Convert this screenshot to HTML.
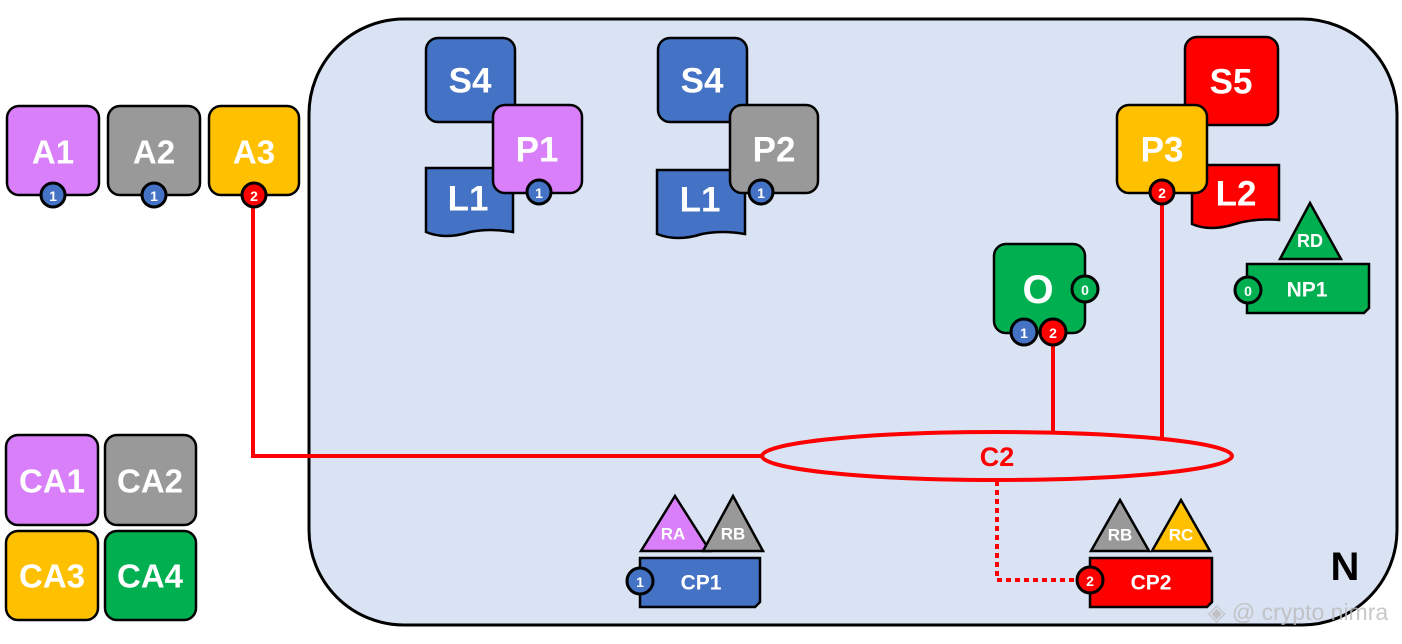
<!DOCTYPE html>
<html><head><meta charset="utf-8"><style>
body{margin:0;background:#fff}
svg text{font-family:"Liberation Sans",sans-serif;font-weight:bold;fill:#fff;text-anchor:middle;dominant-baseline:central}
</style></head><body>
<svg width="1402" height="639" viewBox="0 0 1402 639" xmlns="http://www.w3.org/2000/svg">
<rect x="309" y="19" width="1088" height="606" rx="95" fill="#dae3f3" stroke="#000" stroke-width="3"/>

<g stroke="#000" stroke-width="2.5">
<rect x="7" y="106" width="92" height="89" rx="12" fill="#d97ff9"/>
<rect x="108" y="106" width="92" height="89" rx="12" fill="#999"/>
<rect x="209" y="106" width="90" height="89" rx="12" fill="#ffc000"/>
<rect x="6" y="435" width="92" height="90" rx="12" fill="#d97ff9"/>
<rect x="105" y="435" width="91" height="90" rx="12" fill="#999"/>
<rect x="6" y="531" width="92" height="89" rx="12" fill="#ffc000"/>
<rect x="105" y="531" width="91" height="89" rx="12" fill="#00b050"/>
</g>
<text x="53" y="152" font-size="33">A1</text>
<text x="154" y="152" font-size="33">A2</text>
<text x="254" y="152" font-size="33">A3</text>
<text x="52" y="481" font-size="33">CA1</text>
<text x="150" y="481" font-size="33">CA2</text>
<text x="52" y="576" font-size="33">CA3</text>
<text x="150" y="576" font-size="33">CA4</text>

<g fill="none" stroke="#f00" stroke-width="4">
<polyline points="253,200 253,456 762,456"/>
<line x1="1053" y1="340" x2="1053" y2="433"/>
<line x1="1162" y1="200" x2="1162" y2="437"/>
<ellipse cx="997" cy="456" rx="235" ry="24"/>
</g>
<polyline points="997,481 997,580 1080,580" fill="none" stroke="#f00" stroke-width="4" stroke-dasharray="5,4"/>
<text x="997" y="457" font-size="27" style="fill:#f00">C2</text>

<g stroke="#000" stroke-width="2.5">
<rect x="426" y="38" width="89" height="84" rx="12" fill="#4472c4"/>
<path d="M426,168 L513,168 L513,232 Q490,228 470,232 Q445,240 426,232 Z" fill="#4472c4"/>
<rect x="493" y="105" width="89" height="88" rx="12" fill="#d97ff9"/>
<rect x="658" y="38" width="89" height="84" rx="12" fill="#4472c4"/>
<path d="M657,170 L745,170 L745,234 Q722,230 702,234 Q677,242 657,234 Z" fill="#4472c4"/>
<rect x="730" y="105" width="88" height="88" rx="12" fill="#999"/>
<rect x="1185" y="37" width="93" height="88" rx="12" fill="#f00"/>
<path d="M1192,165 L1279,165 L1279,220 Q1255,218 1235,224 Q1210,232 1192,224 Z" fill="#f00"/>
<rect x="1117" y="105" width="90" height="88" rx="12" fill="#ffc000"/>
<rect x="994" y="244" width="91" height="89" rx="12" fill="#00b050"/>
<polygon points="1310,203 1341,259 1280,259" fill="#00b050"/>
<path d="M1247,264 L1369,264 L1369,308 L1364,313 L1247,313 Z" fill="#00b050"/>
<polygon points="675,496 710,551 641,551" fill="#d97ff9"/>
<polygon points="733,496 763,551 703,551" fill="#999"/>
<path d="M640,558 L760,558 L760,602 L755,607 L640,607 Z" fill="#4472c4"/>
<polygon points="1120,500 1149,551 1091,551" fill="#999"/>
<polygon points="1181,500 1210,551 1152,551" fill="#ffc000"/>
<path d="M1090,558 L1212,558 L1212,602 L1207,607 L1090,607 Z" fill="#f00"/>
</g>
<text x="470" y="81" font-size="35">S4</text>
<text x="537" y="150" font-size="35">P1</text>
<text x="468" y="199" font-size="35">L1</text>
<text x="702" y="81" font-size="35">S4</text>
<text x="774" y="150" font-size="35">P2</text>
<text x="700" y="200" font-size="35">L1</text>
<text x="1231" y="82" font-size="35">S5</text>
<text x="1162" y="150" font-size="35">P3</text>
<text x="1236" y="194" font-size="35">L2</text>
<text x="1038" y="290" font-size="40">O</text>
<text x="1310" y="241" font-size="18">RD</text>
<text x="1307" y="290" font-size="21">NP1</text>
<text x="673" y="534" font-size="17">RA</text>
<text x="733" y="534" font-size="17">RB</text>
<text x="701" y="583" font-size="21">CP1</text>
<text x="1120" y="535" font-size="17">RB</text>
<text x="1181" y="535" font-size="17">RC</text>
<text x="1151" y="583" font-size="21">CP2</text>
<text x="1345" y="567" font-size="40" style="fill:#000">N</text>

<g stroke="#000" stroke-width="3">
<circle cx="53" cy="195" r="12" fill="#4472c4"/>
<circle cx="154" cy="195" r="12" fill="#4472c4"/>
<circle cx="254" cy="195" r="12" fill="#f00"/>
<circle cx="539" cy="192" r="12" fill="#4472c4"/>
<circle cx="761" cy="192" r="12" fill="#4472c4"/>
<circle cx="1162" cy="192" r="12" fill="#f00"/>
<circle cx="1085" cy="289" r="13" fill="#00b050"/>
<circle cx="1024" cy="332" r="13" fill="#4472c4"/>
<circle cx="1053" cy="332" r="13" fill="#f00"/>
<circle cx="1248" cy="290" r="13" fill="#00b050"/>
<circle cx="640" cy="581" r="13" fill="#4472c4"/>
<circle cx="1090" cy="580" r="13" fill="#f00"/>
</g>
<g font-size="14">
<text x="53" y="196">1</text><text x="154" y="196">1</text><text x="254" y="196">2</text>
<text x="539" y="193">1</text><text x="761" y="193">1</text><text x="1162" y="193">2</text>
<text x="1085" y="290">0</text><text x="1024" y="333">1</text><text x="1053" y="333">2</text>
<text x="1248" y="291">0</text><text x="640" y="582">1</text><text x="1090" y="581">2</text>
</g>
<text x="1298" y="612" font-size="23" style="fill:#bbb;font-weight:normal;opacity:.8">◈ @ crypto nimra</text>
</svg>
</body></html>
